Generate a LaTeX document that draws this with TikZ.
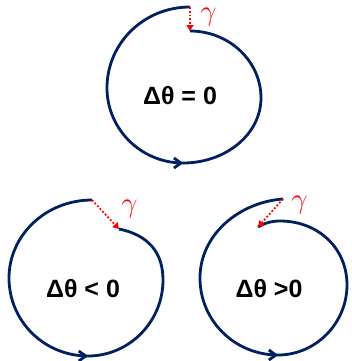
\documentclass[tikz,border=0pt]{standalone}
\usepackage{fontspec}
\setmainfont{Liberation Sans}
\usetikzlibrary{arrows.meta, decorations.markings}
\definecolor{navy}{RGB}{0,32,96}
\definecolor{gapred}{RGB}{255,0,0}

\begin{document}
\begin{tikzpicture}[
  x=0.5pt, y=-0.5pt,
  spiral/.style={navy, line width=1.4pt, postaction={decorate},
    decoration={markings, mark=at position #1 with
      {\arrow{Straight Barb[length=3.5pt, width=5pt]}}}},
  gap/.style={gapred, densely dotted, line width=0.9pt,
    -{Triangle[length=3pt, width=3.5pt]}},
  dtheta/.style={font=\fontsize{12.5}{12.5}\selectfont\bfseries},
  gammalbl/.style={gapred, inner sep=0pt, anchor=north west,
    font=\fontsize{15}{15}\selectfont},
]
\useasboundingbox (0,0) rectangle (352,361);

% zero winding gap
\coordinate (zout) at (190,7);
\coordinate (zin)  at (190,31);
\draw[spiral=0.529] (zout)
  .. controls (144,7)   and (107,43)  .. (107,88)
  .. controls (107,129) and (141,163) .. (183,163)
  .. controls (226,163) and (261,134) .. (261,98)
  .. controls (261,61)  and (229,31)  .. (zin);
\draw[gap] (zout) -- (zin);
\node[gammalbl] (zgamma) at (200,8) {$\gamma$};
\node[dtheta]   (zlabel) at (180,96) {Δθ = 0};

% negative gap
\coordinate (nout) at (92,200);
\coordinate (nin)  at (119,229);
\draw[spiral=0.565] (nout)
  .. controls (46,200)  and (9,235)   .. (9,278)
  .. controls (9,321)   and (44,356)  .. (88,356)
  .. controls (129,356) and (163,322) .. (163,280)
  .. controls (163,252) and (148,235) .. (nin);
\draw[gap] (nout) -- (nin);
\node[gammalbl] (ngamma) at (121,200) {$\gamma$};
\node[dtheta]   (nlabel) at (83,289) {Δθ < 0};

% positive gap
\coordinate (pout) at (283,199);
\coordinate (pin)  at (258,227);
\draw[spiral=0.513] (pout)
  .. controls (240,202) and (200,234) .. (200,278)
  .. controls (200,321) and (235,355) .. (278,355)
  .. controls (316,355) and (347,323) .. (347,285)
  .. controls (347,247) and (317,221) .. (280,221)
  .. controls (270,221) and (263,224) .. (pin);
\draw[gap] (pout) -- (pin);
\node[gammalbl] (pgamma) at (291,196) {$\gamma$};
\node[dtheta]   (plabel) at (269,289) {Δθ >0};

\end{tikzpicture}
\end{document}
